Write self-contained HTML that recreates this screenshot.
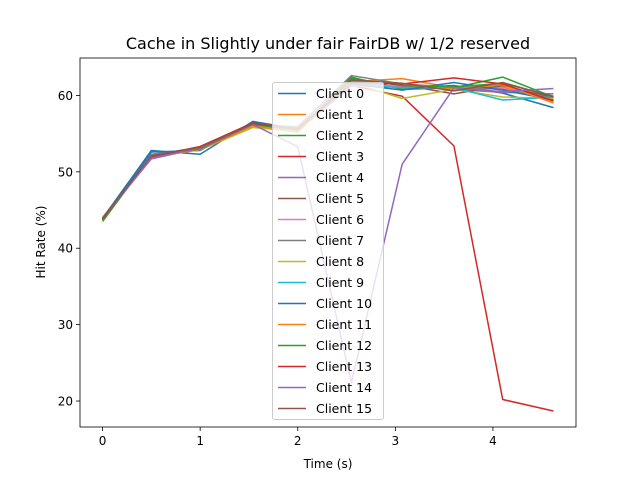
<!DOCTYPE html>
<html><head><meta charset="utf-8"><style>
body{margin:0;background:#fff}
svg{font-family:"DejaVu Sans","Liberation Sans",sans-serif}
</style></head><body>
<svg id="c" width="640" height="480" xmlns="http://www.w3.org/2000/svg"></svg>
<script>
const times=[0,0.5,1.0,1.54,2.0,2.55,3.07,3.6,4.1,4.62];
const xTicks=[0,1,2,3,4];
const yTicks=[20,30,40,50,60];
const names=["Client 0","Client 1","Client 2","Client 3","Client 4","Client 5","Client 6","Client 7","Client 8","Client 9","Client 10","Client 11","Client 12","Client 13","Client 14","Client 15"];
const s0=[43.9,52.8,52.3,56.6,55.6,61.6,61.0,61.3,60.3,58.4];
const s1=[43.7,51.9,52.9,55.9,55.2,61.8,62.2,61.0,61.1,59.2];
const s2=[43.5,52.1,53.0,56.2,55.4,62.4,60.8,61.0,62.4,59.8];
const s3=[43.8,52.0,53.3,56.4,55.6,61.3,59.9,53.4,20.2,18.7];
const s4=[43.9,51.7,53.1,56.2,55.5,61.5,61.2,60.8,60.4,60.2];
const s5=[44.0,52.2,53.2,56.3,55.7,61.9,61.4,60.2,61.3,59.7];
const s6=[43.8,51.8,53.2,56.0,55.4,61.2,61.3,60.9,60.9,59.4];
const s7=[43.9,52.3,53.1,56.1,55.9,62.6,61.5,61.1,60.8,59.6];
const s8=[43.7,52.0,52.9,55.8,55.3,61.7,59.6,60.8,59.8,59.6];
const s9=[43.8,52.1,53.0,56.1,55.5,61.4,61.0,61.0,59.4,59.8];
const s10=[43.9,52.6,52.8,56.5,55.6,61.5,60.7,61.7,60.7,59.4];
const s11=[43.8,51.9,52.9,56.0,55.3,61.9,61.5,60.9,61.4,59.0];
const s12=[43.7,52.0,53.0,56.2,55.5,62.2,61.3,61.1,61.6,59.9];
const s13=[43.8,52.0,53.3,56.4,55.6,61.6,61.5,62.3,61.5,59.3];
const s14=[43.9,51.8,53.1,56.2,53.3,22.4,51.0,61.0,60.5,60.9];
const s15=[43.9,52.1,53.2,56.3,55.6,62.0,61.6,60.6,61.7,59.8];
const series=[s0,s1,s2,s3,s4,s5,s6,s7,s8,s9,s10,s11,s12,s13,s14,s15];
const colors=["#1f77b4","#ff7f0e","#2ca02c","#d62728","#9467bd","#8c564b","#e377c2","#7f7f7f","#bcbd22","#17becf"];
const L=80,R=576,T=58,B=427;
const xmin=-0.231,xmax=4.851;
const ymin=16.6,ymax=64.9;
const X=v=>L+(v-xmin)/(xmax-xmin)*(R-L);
const Y=v=>B-(v-ymin)/(ymax-ymin)*(B-T);
const svg=document.getElementById('c');
const NS="http://www.w3.org/2000/svg";
function mk(tag,attrs){const e=document.createElementNS(NS,tag);for(const k in attrs)e.setAttribute(k,attrs[k]);svg.appendChild(e);return e;}
let t=mk('text',{x:328,y:49,'text-anchor':'middle','font-size':16,fill:'#000'});t.textContent="Cache in Slightly under fair FairDB w/ 1/2 reserved";


xTicks.forEach(v=>{
  const l=mk('line',{x1:X(v),x2:X(v),y1:B,y2:B+4,stroke:'#000','stroke-width':0.8});
  
  
  const tx=mk('text',{x:X(v),y:B+18,'text-anchor':'middle','font-size':12});tx.textContent=v;
  
  
});
yTicks.forEach(v=>{
  const l=mk('line',{x1:L-4,x2:L,y1:Y(v),y2:Y(v),stroke:'#000','stroke-width':0.8});
  
  
  const tx=mk('text',{x:L-7,y:Y(v)+4.5,'text-anchor':'end','font-size':12});tx.textContent=v;
  
  
});
t=mk('text',{x:328,y:468,'text-anchor':'middle','font-size':12});t.textContent="Time (s)";


t=mk('text',{x:45,y:242,'text-anchor':'middle','font-size':12,transform:'rotate(-90 45 242)'});t.textContent="Hit Rate (%)";


series.forEach((s,i)=>{
  const p=mk('polyline',{points:s.map((v,j)=>X(times[j])+','+Y(v)).join(' '),fill:'none',stroke:colors[i%10],'stroke-width':1.5,'stroke-linejoin':'round'});
  
  
});
const fr=mk('rect',{x:L,y:T,width:R-L,height:B-T,fill:'none',stroke:'#000','stroke-width':0.8});


const lg=mk('rect',{x:272.5,y:82.5,width:111,height:337,rx:2,fill:'#fff','fill-opacity':0.8,stroke:'#ccc','stroke-width':1});


names.forEach((n,i)=>{
  const y=93.5+i*21;
  const l=mk('line',{x1:278,x2:306,y1:y,y2:y,stroke:colors[i%10],'stroke-width':1.5});
  
  
  const tx=mk('text',{x:316,y:y+4.5,'font-size':12.5});tx.textContent=n;
  
  
});
</script>
</body></html>
